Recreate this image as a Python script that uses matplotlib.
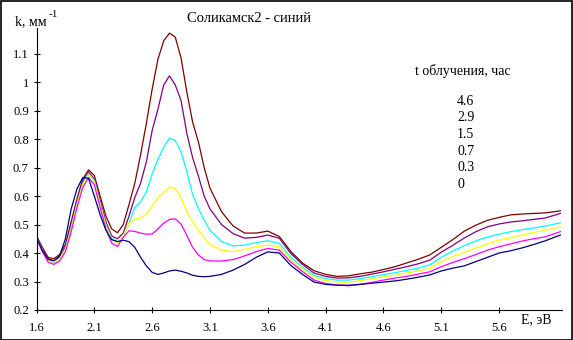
import matplotlib
matplotlib.use("Agg")
import matplotlib.pyplot as plt
from matplotlib.patches import Rectangle

plt.rcParams['font.family'] = ['Liberation Serif', 'DejaVu Serif']

# photon energy, eV
energy = [1.60, 1.65, 1.70, 1.75, 1.80, 1.85, 1.90, 1.95, 2.00, 2.05,
          2.10, 2.15, 2.20, 2.25, 2.30, 2.35, 2.40, 2.45, 2.50, 2.55,
          2.60, 2.65, 2.70, 2.75, 2.80, 2.85, 2.90, 2.95, 3.00, 3.05,
          3.10, 3.20, 3.30, 3.40, 3.50, 3.60, 3.70, 3.80, 3.90, 4.00,
          4.10, 4.20, 4.30, 4.40, 4.50, 4.60, 4.70, 4.80, 4.90, 5.00,
          5.10, 5.20, 5.30, 5.40, 5.50, 5.60, 5.70, 5.80, 5.90, 6.00, 6.13]

# absorption k, 1/mm, per irradiation time (hours)
k_46 = [0.460, 0.420, 0.385, 0.380, 0.395, 0.430, 0.510, 0.590, 0.660, 0.692,
        0.672, 0.600, 0.530, 0.485, 0.471, 0.500, 0.570, 0.645, 0.745, 0.855,
        0.975, 1.080, 1.145, 1.172, 1.158, 1.085, 0.965, 0.860, 0.790, 0.700,
        0.628, 0.545, 0.495, 0.470, 0.470, 0.477, 0.458, 0.405, 0.365, 0.338,
        0.325, 0.318, 0.320, 0.327, 0.333, 0.342, 0.352, 0.365, 0.378, 0.393,
        0.420, 0.447, 0.477, 0.498, 0.515, 0.525, 0.534, 0.537, 0.539, 0.541, 0.548]
k_29 = [0.455, 0.415, 0.380, 0.372, 0.385, 0.420, 0.500, 0.580, 0.650, 0.685,
        0.660, 0.585, 0.510, 0.460, 0.450, 0.470, 0.530, 0.595, 0.645, 0.720,
        0.830, 0.905, 0.990, 1.022, 0.990, 0.935, 0.820, 0.735, 0.670, 0.600,
        0.555, 0.500, 0.468, 0.452, 0.455, 0.463, 0.452, 0.398, 0.360, 0.330,
        0.318, 0.312, 0.313, 0.318, 0.326, 0.334, 0.343, 0.352, 0.362, 0.375,
        0.403, 0.427, 0.453, 0.475, 0.492, 0.502, 0.509, 0.513, 0.518, 0.523, 0.539]
k_15 = [0.455, 0.410, 0.375, 0.366, 0.380, 0.415, 0.490, 0.575, 0.645, 0.680,
        0.655, 0.575, 0.500, 0.452, 0.440, 0.455, 0.505, 0.560, 0.580, 0.615,
        0.678, 0.728, 0.772, 0.803, 0.795, 0.755, 0.685, 0.605, 0.557, 0.515,
        0.480, 0.440, 0.425, 0.428, 0.437, 0.443, 0.434, 0.385, 0.350, 0.322,
        0.310, 0.305, 0.305, 0.310, 0.317, 0.324, 0.331, 0.339, 0.347, 0.358,
        0.385, 0.407, 0.426, 0.443, 0.456, 0.466, 0.475, 0.482, 0.488, 0.495, 0.506]
k_07 = [0.455, 0.410, 0.373, 0.368, 0.380, 0.413, 0.485, 0.570, 0.640, 0.675,
        0.650, 0.570, 0.495, 0.447, 0.435, 0.460, 0.505, 0.519, 0.523, 0.535,
        0.565, 0.594, 0.612, 0.632, 0.625, 0.595, 0.545, 0.510, 0.480, 0.455,
        0.430, 0.410, 0.405, 0.413, 0.422, 0.428, 0.422, 0.377, 0.343, 0.315,
        0.303, 0.298, 0.298, 0.303, 0.310, 0.316, 0.322, 0.330, 0.337, 0.346,
        0.370, 0.388, 0.402, 0.417, 0.432, 0.445, 0.454, 0.463, 0.472, 0.480, 0.492]
k_03 = [0.450, 0.405, 0.368, 0.360, 0.372, 0.405, 0.475, 0.560, 0.630, 0.665,
        0.640, 0.560, 0.485, 0.435, 0.423, 0.455, 0.478, 0.476, 0.470, 0.466,
        0.467, 0.485, 0.505, 0.518, 0.520, 0.502, 0.462, 0.420, 0.393, 0.377,
        0.372, 0.372, 0.377, 0.390, 0.405, 0.416, 0.410, 0.368, 0.335, 0.305,
        0.293, 0.288, 0.285, 0.290, 0.297, 0.305, 0.312, 0.318, 0.326, 0.334,
        0.352, 0.367, 0.380, 0.395, 0.410, 0.422, 0.432, 0.442, 0.450, 0.457, 0.475]
k_0 = [0.455, 0.410, 0.378, 0.373, 0.390, 0.450, 0.555, 0.625, 0.665, 0.662,
       0.600, 0.535, 0.480, 0.447, 0.440, 0.445, 0.440, 0.420, 0.385, 0.355,
       0.332, 0.325, 0.330, 0.337, 0.340, 0.336, 0.330, 0.322, 0.318, 0.317,
       0.318, 0.325, 0.340, 0.360, 0.385, 0.404, 0.400, 0.356, 0.325, 0.298,
       0.290, 0.287, 0.287, 0.290, 0.294, 0.298, 0.302, 0.308, 0.315, 0.323,
       0.337, 0.347, 0.355, 0.370, 0.385, 0.400, 0.408, 0.418, 0.430, 0.443, 0.463]

series = [k_46, k_29, k_15, k_07, k_03, k_0]
hours = ['4.6', '2.9', '1.5', '0.7', '0.3', '0']
colors = ['#800000', '#800080', '#00FFFF', '#FFFF00', '#FF00FF', '#000080']

x_ticks = [1.6, 2.1, 2.6, 3.1, 3.6, 4.1, 4.6, 5.1, 5.6]
y_ticks = [0.2, 0.3, 0.4, 0.5, 0.6, 0.7, 0.8, 0.9, 1.0, 1.1]

W, H = 573, 340
fig = plt.figure(figsize=(W / 100, H / 100), dpi=100)
ax = fig.add_axes([36.5 / W, 30 / H, 525 / W, 282 / H])

for vals, c in zip(series, colors):
    ax.plot(energy, vals, color=c, linewidth=0.9)

ax.set_xlim(1.6, 6.14)
ax.set_ylim(0.2, 1.19)
ax.set_xticks(x_ticks)
ax.set_xticklabels([f'{v:g}' for v in x_ticks])
ax.set_yticks(y_ticks)
ax.set_yticklabels([f'{v:g}' for v in y_ticks])
for s in ['top', 'right']:
    ax.spines[s].set_visible(False)
for s in ['left', 'bottom']:
    ax.spines[s].set_linewidth(0.8)
ax.tick_params(direction='inout', length=5, width=0.8, labelsize=9, pad=3)
ax.tick_params(axis='x', pad=6)


def px(x, y):
    return x / W, 1 - y / H


fig.text(*px(15, 25), 'k, мм', fontsize=10, va='baseline')
fig.text(*px(49, 17), '-1', fontsize=8, va='baseline')
fig.text(*px(249, 18), 'Соликамск2 - синий', fontsize=10.5, ha='center', va='center')
fig.text(*px(521, 320), 'E, эВ', fontsize=10, va='center')

fig.text(*px(415, 71), 't облучения, час', fontsize=10, va='center')
for i, h in enumerate(hours):
    fig.text(*px(457, 101 + i * 16.7), h, fontsize=10, va='center')

# outer frame
fig.patches.append(Rectangle((0.5 / W, 0.5 / H), 1 - 1.5 / W, 1 - 1.5 / H,
                             transform=fig.transFigure, fill=False,
                             edgecolor='black', linewidth=1.2))

fig.savefig('out.png', dpi=100)
